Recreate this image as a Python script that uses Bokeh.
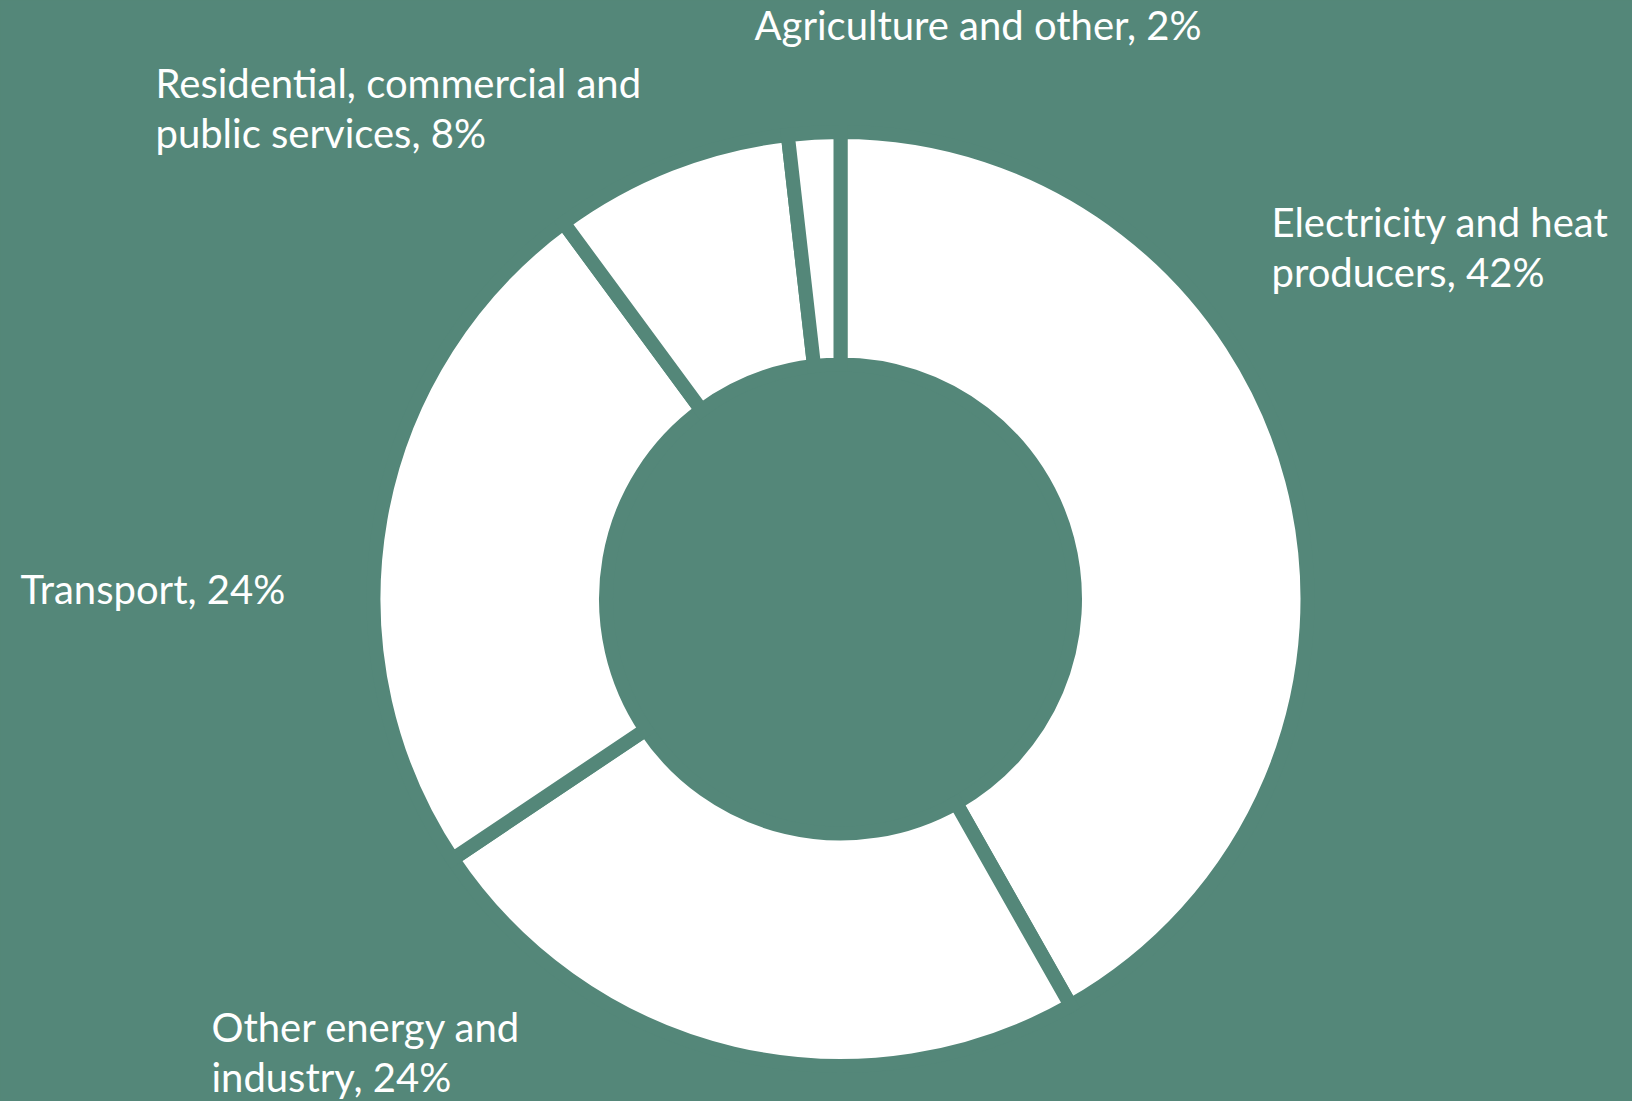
import math
from bokeh.plotting import figure
from bokeh.models import Range1d, ColumnDataSource
from bokeh.core.properties import value
from bokeh.embed import file_html
from bokeh.resources import INLINE

# ---- data ----
categories = ["Electricity and heat producers", "Other energy and industry",
              "Transport", "Residential, commercial and public services",
              "Agriculture and other"]
shares = [41.8, 23.8, 24.3, 8.3, 1.8]
label_lines = [["Electricity and heat", "producers, 42%"],
               ["Other energy and", "industry, 24%"],
               ["Transport, 24%"],
               ["Residential, commercial and", "public services, 8%"],
               ["Agriculture and other, 2%"]]
# label anchors (left x, first baseline y) in page pixels
label_pos = [(1271, 221), (211, 1026), (20, 588), (155, 82), (754, 24)]

BG = "#548779"
W, H = 1632, 1101
LINE_GAP = 50.5


def px(x):
    return x


def py(y):
    return H - y


p = figure(width=W, height=H, output_backend="svg", toolbar_location=None,
           x_range=Range1d(0, W), y_range=Range1d(0, H), min_border=0,
           background_fill_color=BG, border_fill_color=BG)
p.axis.visible = False
p.grid.visible = False
p.outline_line_color = None

total = sum(shares)
starts, ends = [], []
cum = 0.0
for s in shares:
    starts.append(math.pi / 2 - 2 * math.pi * cum / total)
    cum += s
    ends.append(math.pi / 2 - 2 * math.pi * cum / total)

src = ColumnDataSource(dict(cat=categories, share=shares, start=starts, end=ends))
cx, cy = px(840), py(598.5)
p.annular_wedge(x=cx, y=cy, inner_radius=234.5, outer_radius=467,
                inner_radius_units="screen", outer_radius_units="screen",
                start_angle="start", end_angle="end", direction="clock",
                fill_color="white", line_color=BG, line_width=14,
                line_join="miter", source=src)

tx, ty, tt = [], [], []
for lines, (lx, ly) in zip(label_lines, label_pos):
    for i, ln in enumerate(lines):
        tx.append(px(lx))
        ty.append(py(ly + i * LINE_GAP))
        tt.append(ln)
p.text(x=tx, y=ty, text=tt, text_color="white", text_font=value("Lato"),
       text_font_size="40px", text_align="left", text_baseline="alphabetic")

html = file_html(p, INLINE)
html = html.replace("</head>",
                    "<style>html,body{background:%s;overflow:hidden;}</style></head>" % BG)
open("out.html", "w").write(html)
